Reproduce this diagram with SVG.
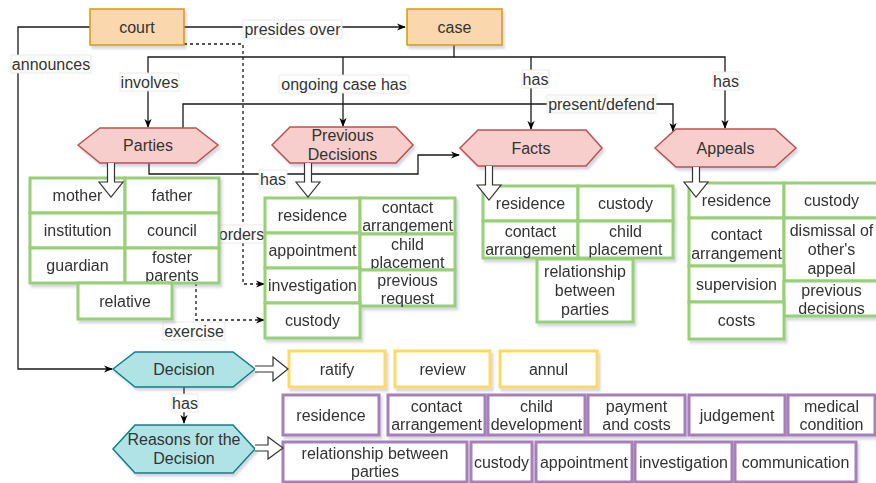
<svg xmlns="http://www.w3.org/2000/svg" width="876" height="483" viewBox="0 0 876 483">
<style>
text{font-family:"Liberation Sans",Arial,Helvetica,sans-serif;font-size:16px;fill:#333;text-anchor:middle}
.top{fill:#fad7ac;stroke:#d79b00;stroke-width:1.5}
.hexr{fill:#f8cecc;stroke:#b85450;stroke-width:1.5}
.hexb{fill:#b0e3e6;stroke:#0e8088;stroke-width:1.5}
.g{fill:#fff;stroke:#97d077;stroke-width:3}
.y{fill:#fff;stroke:#ffd966;stroke-width:3}
.p{fill:#fff;stroke:#a680b8;stroke-width:3}
.ln{fill:none;stroke:#1a1a1a;stroke-width:1.3}
.dash{fill:none;stroke:#1a1a1a;stroke-width:1.3;stroke-dasharray:3 3}
.lbl{fill:#fff;stroke:#e4e4e4;stroke-width:0.8}
.blk{fill:#fff;stroke:#333;stroke-width:1.2}
.sh{filter:url(#shadow)}
</style>
<defs>
<filter id="shadow" x="-10%" y="-10%" width="130%" height="140%">
<feDropShadow dx="2" dy="3" stdDeviation="1.2" flood-color="#5a5a8a" flood-opacity="0.25"/>
</filter>
<marker id="ah" viewBox="0 0 10 10" refX="9" refY="5" markerWidth="9" markerHeight="9" orient="auto" markerUnits="userSpaceOnUse">
<path d="M0,1 L10,5 L0,9 L3,5 z" fill="#000"/>
</marker>
</defs>
<rect width="876" height="483" fill="#fff"/>

<g id="connectors">
<path class="ln" d="M184,27 H405" marker-end="url(#ah)"/>
<path class="ln" d="M90,27 H18 V369 H112" marker-end="url(#ah)"/>
<path class="ln" d="M454,45 V57 H148 V127" marker-end="url(#ah)"/>
<path class="ln" d="M343,57 V126" marker-end="url(#ah)"/>
<path class="ln" d="M454,57 H531 V129" marker-end="url(#ah)"/>
<path class="ln" d="M531,57 H725 V128" marker-end="url(#ah)"/>
<path class="ln" d="M183,128 V104 H673 V131" marker-end="url(#ah)"/>
<path class="ln" d="M149,163 V174 H418 V155 H459" marker-end="url(#ah)"/>
<path class="dash" d="M184,44 H243 V284 H264" marker-end="url(#ah)"/>
<path class="dash" d="M196,283 V320 H264" marker-end="url(#ah)"/>
<path class="ln" d="M184,387 V423" marker-end="url(#ah)"/>
<g class="labels">
<rect class="lbl" x="243" y="20" width="99" height="18"/><text x="292.5" y="35">presides over</text>
<rect class="lbl" x="11" y="55" width="80" height="18"/><text x="51" y="70">announces</text>
<rect class="lbl" x="120" y="73" width="59" height="18"/><text x="149.5" y="88">involves</text>
<rect class="lbl" x="279" y="75" width="130" height="18"/><text x="344" y="90">ongoing case has</text>
<rect class="lbl" x="522" y="70" width="27" height="18"/><text x="535.5" y="85">has</text>
<rect class="lbl" x="713" y="72" width="26" height="18"/><text x="726" y="87">has</text>
<rect class="lbl" x="547" y="95" width="109" height="18"/><text x="601.5" y="110">present/defend</text>
<rect class="lbl" x="259" y="170" width="28" height="18"/><text x="273" y="185">has</text>
<rect class="lbl" x="218" y="225" width="47" height="18"/><text x="241.5" y="240">orders</text>
<rect class="lbl" x="163" y="322" width="62" height="18"/><text x="194" y="337">exercise</text>
<rect class="lbl" x="172" y="394" width="26" height="18"/><text x="185" y="409">has</text>
</g>
</g>

<g id="court"><rect class="top sh" x="90" y="9" width="94" height="36"/><text x="137" y="33">court</text></g>
<g id="case"><rect class="top sh" x="407" y="9" width="95" height="36"/><text x="454.5" y="33">case</text></g>

<g id="parties"><polygon class="hexr sh" points="78,145 100,128 196,128 218,145 196,163 100,163"/><text x="148" y="151">Parties</text></g>
<g id="previous-decisions"><polygon class="hexr sh" points="272,145 290,127 396,127 413,145 396,163 290,163"/><text x="342.5" y="141">Previous</text><text x="342.5" y="160">Decisions</text></g>
<g id="facts"><polygon class="hexr sh" points="460,148 478,130 586,130 602,148 586,166 478,166"/><text x="531" y="154">Facts</text></g>
<g id="appeals"><polygon class="hexr sh" points="655,148 676,129 775,129 796,148 775,167 676,167"/><text x="725.5" y="154">Appeals</text></g>
<g id="decision"><polygon class="hexb sh" points="113,369 135,352 233,352 255,369 233,387 135,387"/><text x="184" y="375">Decision</text></g>
<g id="reasons"><polygon class="hexb sh" points="113,449 135,425 233,425 255,449 233,473 135,473"/><text x="184" y="445">Reasons for the</text><text x="184" y="464">Decision</text></g>

<g id="parties-members" class="sh">
<rect class="g" x="30" y="178" width="95" height="35"/><text x="77.5" y="201">mother</text>
<rect class="g" x="125" y="178" width="94" height="35"/><text x="172" y="201">father</text>
<rect class="g" x="30" y="213" width="95" height="35"/><text x="77.5" y="236">institution</text>
<rect class="g" x="125" y="213" width="94" height="35"/><text x="172" y="236">council</text>
<rect class="g" x="30" y="248" width="95" height="35"/><text x="77.5" y="271">guardian</text>
<rect class="g" x="125" y="248" width="94" height="35"/><text x="172" y="263">foster</text><text x="172" y="281">parents</text>
<rect class="g" x="78" y="283" width="94" height="36"/><text x="125" y="306.5">relative</text>
</g>

<g id="previous-decisions-items" class="sh">
<rect class="g" x="265" y="198" width="95" height="35"/><text x="312.5" y="221">residence</text>
<rect class="g" x="360" y="198" width="95" height="36"/><text x="407.5" y="213">contact</text><text x="407.5" y="231">arrangement</text>
<rect class="g" x="265" y="233" width="95" height="35"/><text x="312.5" y="256">appointment</text>
<rect class="g" x="360" y="234" width="95" height="36"/><text x="407.5" y="250">child</text><text x="407.5" y="268">placement</text>
<rect class="g" x="265" y="268" width="95" height="35"/><text x="312.5" y="291">investigation</text>
<rect class="g" x="360" y="270" width="95" height="36"/><text x="407.5" y="286">previous</text><text x="407.5" y="304">request</text>
<rect class="g" x="265" y="303" width="95" height="35"/><text x="312.5" y="326">custody</text>
</g>

<g id="facts-items" class="sh">
<rect class="g" x="483" y="186" width="95" height="35"/><text x="530.5" y="209">residence</text>
<rect class="g" x="578" y="186" width="95" height="35"/><text x="625.5" y="209">custody</text>
<rect class="g" x="483" y="221" width="95" height="37"/><text x="530.5" y="237">contact</text><text x="530.5" y="255">arrangement</text>
<rect class="g" x="578" y="221" width="95" height="37"/><text x="625.5" y="237">child</text><text x="625.5" y="255">placement</text>
<rect class="g" x="537" y="259" width="96" height="63"/><text x="585" y="277">relationship</text><text x="585" y="296">between</text><text x="585" y="315">parties</text>
</g>

<g id="appeals-items" class="sh">
<rect class="g" x="689" y="183" width="95" height="35"/><text x="736.5" y="206">residence</text>
<rect class="g" x="784" y="183" width="95" height="35"/><text x="831.5" y="206">custody</text>
<rect class="g" x="689" y="218" width="95" height="48"/><text x="736.5" y="240">contact</text><text x="736.5" y="259">arrangement</text>
<rect class="g" x="784" y="218" width="95" height="63"/><text x="831.5" y="236">dismissal of</text><text x="831.5" y="255">other's</text><text x="831.5" y="274">appeal</text>
<rect class="g" x="689" y="266" width="95" height="36"/><text x="736.5" y="289.5">supervision</text>
<rect class="g" x="784" y="281" width="95" height="35"/><text x="831.5" y="296">previous</text><text x="831.5" y="314">decisions</text>
<rect class="g" x="689" y="302" width="95" height="37"/><text x="736.5" y="326">costs</text>
</g>

<g id="decision-outcomes" class="sh">
<rect class="y" x="289" y="351" width="96" height="36"/><text x="337" y="375">ratify</text>
<rect class="y" x="395" y="351" width="95" height="36"/><text x="442.5" y="375">review</text>
<rect class="y" x="500" y="351" width="97" height="36"/><text x="548.5" y="375">annul</text>
</g>

<g id="reasons-items" class="sh">
<rect class="p" x="283" y="395" width="96" height="40"/><text x="331" y="421">residence</text>
<rect class="p" x="388" y="395" width="97" height="40"/><text x="436.5" y="412">contact</text><text x="436.5" y="430">arrangement</text>
<rect class="p" x="488" y="395" width="97" height="40"/><text x="536.5" y="412">child</text><text x="536.5" y="430">development</text>
<rect class="p" x="588" y="395" width="97" height="40"/><text x="636.5" y="412">payment</text><text x="636.5" y="430">and costs</text>
<rect class="p" x="689" y="395" width="96" height="40"/><text x="737" y="421">judgement</text>
<rect class="p" x="788" y="395" width="87" height="40"/><text x="831.5" y="412">medical</text><text x="831.5" y="430">condition</text>
<rect class="p" x="283" y="442" width="184" height="40"/><text x="375" y="459">relationship between</text><text x="375" y="477">parties</text>
<rect class="p" x="471" y="442" width="61" height="40"/><text x="501.5" y="468">custody</text>
<rect class="p" x="536" y="442" width="96" height="40"/><text x="584" y="468">appointment</text>
<rect class="p" x="635" y="442" width="97" height="40"/><text x="683.5" y="468">investigation</text>
<rect class="p" x="735" y="442" width="121" height="40"/><text x="795.5" y="468">communication</text>
</g>

<g id="block-arrows">
<path class="blk" d="M107.5,163 V182 H99 L111,197 L123,182 H114.5 V163"/>
<path class="blk" d="M304.5,163 V182 H296 L308,197 L320,182 H311.5 V163"/>
<path class="blk" d="M485.5,166 V185 H477 L489,200 L501,185 H492.5 V166"/>
<path class="blk" d="M692.5,167 V182 H684 L696,197 L708,182 H699.5 V167"/>
<path class="blk" d="M255,366 H273 V357 L288,369 L273,381 V372 H255"/>
<path class="blk" d="M255,445 H268 V437 L283,448 L268,459 V451 H255"/>
</g>
</svg>
